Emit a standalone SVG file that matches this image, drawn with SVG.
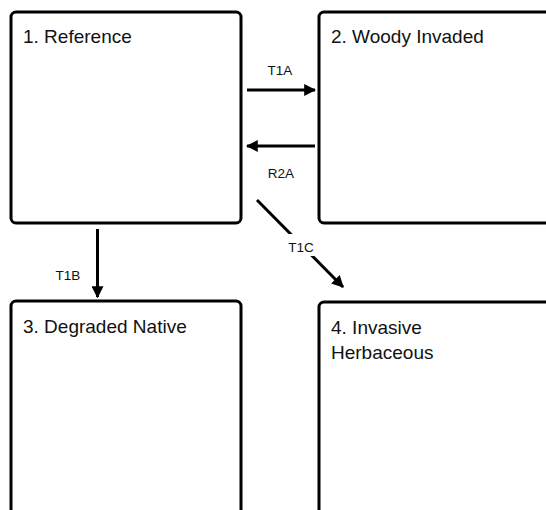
<svg xmlns="http://www.w3.org/2000/svg" width="546" height="510" viewBox="0 0 546 510">
<style>
.box{fill:#fff;stroke:#000;stroke-width:3}
.title{font-family:"Liberation Sans",Arial,sans-serif;font-size:19px;fill:#111}
.lbl{font-family:"Liberation Sans",Arial,sans-serif;font-size:13.5px;fill:#111;text-anchor:middle}
.conn{stroke:#000;stroke-width:3;fill:none;marker-end:url(#ah)}
</style>
<defs>
<marker id="ah" viewBox="0 0 10 10" refX="9" refY="5" markerWidth="4" markerHeight="4" orient="auto" markerUnits="strokeWidth">
<path d="M0,0 L10,5 L0,10 z" fill="#000"/>
</marker>
</defs>
<rect width="546" height="510" fill="#fff"/>
<g id="node1"><rect class="box" x="11" y="12" width="230" height="211" rx="5"/><text class="title" x="23" y="43">1. Reference</text></g>
<g id="node2"><rect class="box" x="319" y="12" width="240" height="211" rx="5"/><text class="title" x="331" y="43">2. Woody Invaded</text></g>
<g id="node3"><rect class="box" x="11" y="301" width="230" height="220" rx="5"/><text class="title" x="23" y="333">3. Degraded Native</text></g>
<g id="node4"><rect class="box" x="319" y="302" width="240" height="220" rx="5"/><text class="title" x="331" y="334">4. Invasive</text><text class="title" x="331" y="359">Herbaceous</text></g>
<g id="connectors">
<line class="conn" x1="247" y1="90" x2="315" y2="90"/>
<text class="lbl" x="280" y="75">T1A</text>
<line class="conn" x1="315" y1="146" x2="247" y2="146"/>
<text class="lbl" x="281" y="178">R2A</text>
<line class="conn" x1="97.5" y1="229" x2="97.5" y2="297"/>
<text class="lbl" x="68" y="280">T1B</text>
<line class="conn" x1="257" y1="200" x2="343" y2="287"/>
<rect x="285" y="234" width="32" height="22" fill="#fff"/>
<text class="lbl" x="301" y="252">T1C</text>
</g>
</svg>
